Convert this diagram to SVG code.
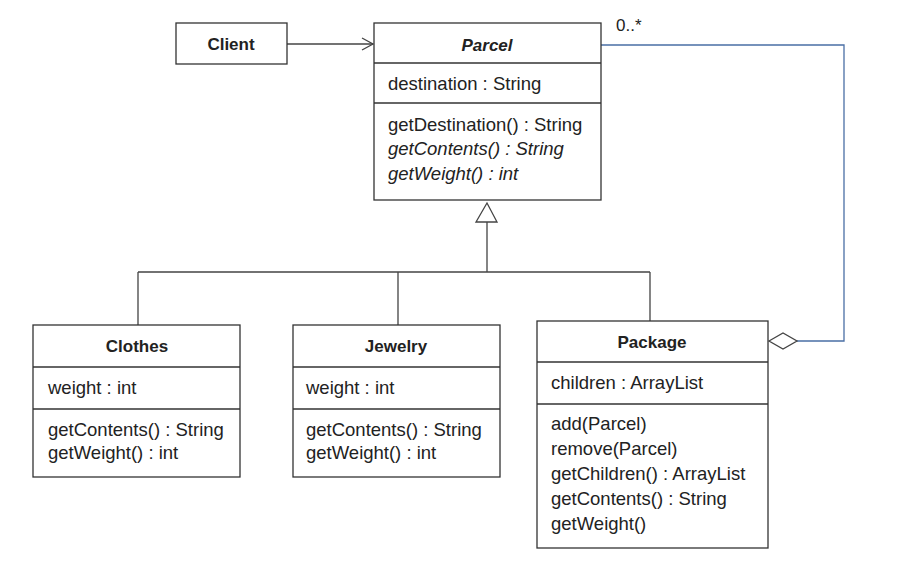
<svg xmlns="http://www.w3.org/2000/svg" width="898" height="562" viewBox="0 0 898 562">
<defs>
<style>
.box{fill:#fff;stroke:#333;stroke-width:1.3}
.sep{stroke:#333;stroke-width:1.3}
.t{font-family:"Liberation Sans",Arial,sans-serif;font-size:18.5px;fill:#222}
.i{font-style:italic}
.b{font-weight:bold;font-size:17px;text-anchor:middle}
.ln{fill:none;stroke:#444;stroke-width:1.3}
.blue{fill:none;stroke:#4a6fa5;stroke-width:1.3}
</style>
<marker id="open" markerWidth="14" markerHeight="14" refX="12" refY="7" orient="auto" markerUnits="userSpaceOnUse">
<path d="M1,1 L12,7 L1,13" fill="none" stroke="#444" stroke-width="1.3"/>
</marker>
</defs>
<rect width="898" height="562" fill="#fff"/>
<g id="connectors">
<path class="ln" d="M287,44 L373,44" marker-end="url(#open)"/>
<path class="ln" d="M487,222 L487,272 M138,272 L650,272 M138,272 L138,325 M398,272 L398,325 M650,272 L650,321"/>
<polygon points="487,203 476,222 497,222" fill="#fff" stroke="#444" stroke-width="1.3"/>
<path class="blue" d="M601,45 L844,45 L844,341 L797,341"/>
<polygon points="769,341 783,333 797,341 783,349" fill="#fff" stroke="#444" stroke-width="1.3"/>
<text class="t" x="616" y="31" style="font-size:17px">0..*</text>
</g>
<g id="client">
<rect class="box" x="176" y="23" width="111" height="41"/>
<text class="t b" x="231" y="50">Client</text>
</g>
<g id="parcel">
<rect class="box" x="374" y="23" width="227" height="177"/>
<line class="sep" x1="374" y1="63" x2="601" y2="63"/>
<line class="sep" x1="374" y1="103" x2="601" y2="103"/>
<text class="t b i" x="487" y="51">Parcel</text>
<text class="t" x="388" y="90">destination : String</text>
<text class="t" x="388" y="131">getDestination() : String</text>
<text class="t i" x="388" y="155">getContents() : String</text>
<text class="t i" x="388" y="180">getWeight() : int</text>
</g>
<g id="clothes">
<rect class="box" x="33" y="325" width="207" height="152"/>
<line class="sep" x1="33" y1="367" x2="240" y2="367"/>
<line class="sep" x1="33" y1="409" x2="240" y2="409"/>
<text class="t b" x="137" y="352">Clothes</text>
<text class="t" x="48" y="394">weight : int</text>
<text class="t" x="48" y="436">getContents() : String</text>
<text class="t" x="48" y="459">getWeight() : int</text>
</g>
<g id="jewelry">
<rect class="box" x="293" y="325" width="207" height="152"/>
<line class="sep" x1="293" y1="367" x2="500" y2="367"/>
<line class="sep" x1="293" y1="409" x2="500" y2="409"/>
<text class="t b" x="396" y="352">Jewelry</text>
<text class="t" x="306" y="394">weight : int</text>
<text class="t" x="306" y="436">getContents() : String</text>
<text class="t" x="306" y="459">getWeight() : int</text>
</g>
<g id="package">
<rect class="box" x="537" y="321" width="231" height="227"/>
<line class="sep" x1="537" y1="362" x2="768" y2="362"/>
<line class="sep" x1="537" y1="404" x2="768" y2="404"/>
<text class="t b" x="652" y="348">Package</text>
<text class="t" x="551" y="389">children : ArrayList</text>
<text class="t" x="551" y="430">add(Parcel)</text>
<text class="t" x="551" y="455">remove(Parcel)</text>
<text class="t" x="551" y="480">getChildren() : ArrayList</text>
<text class="t" x="551" y="505">getContents() : String</text>
<text class="t" x="551" y="530">getWeight()</text>
</g>
</svg>
